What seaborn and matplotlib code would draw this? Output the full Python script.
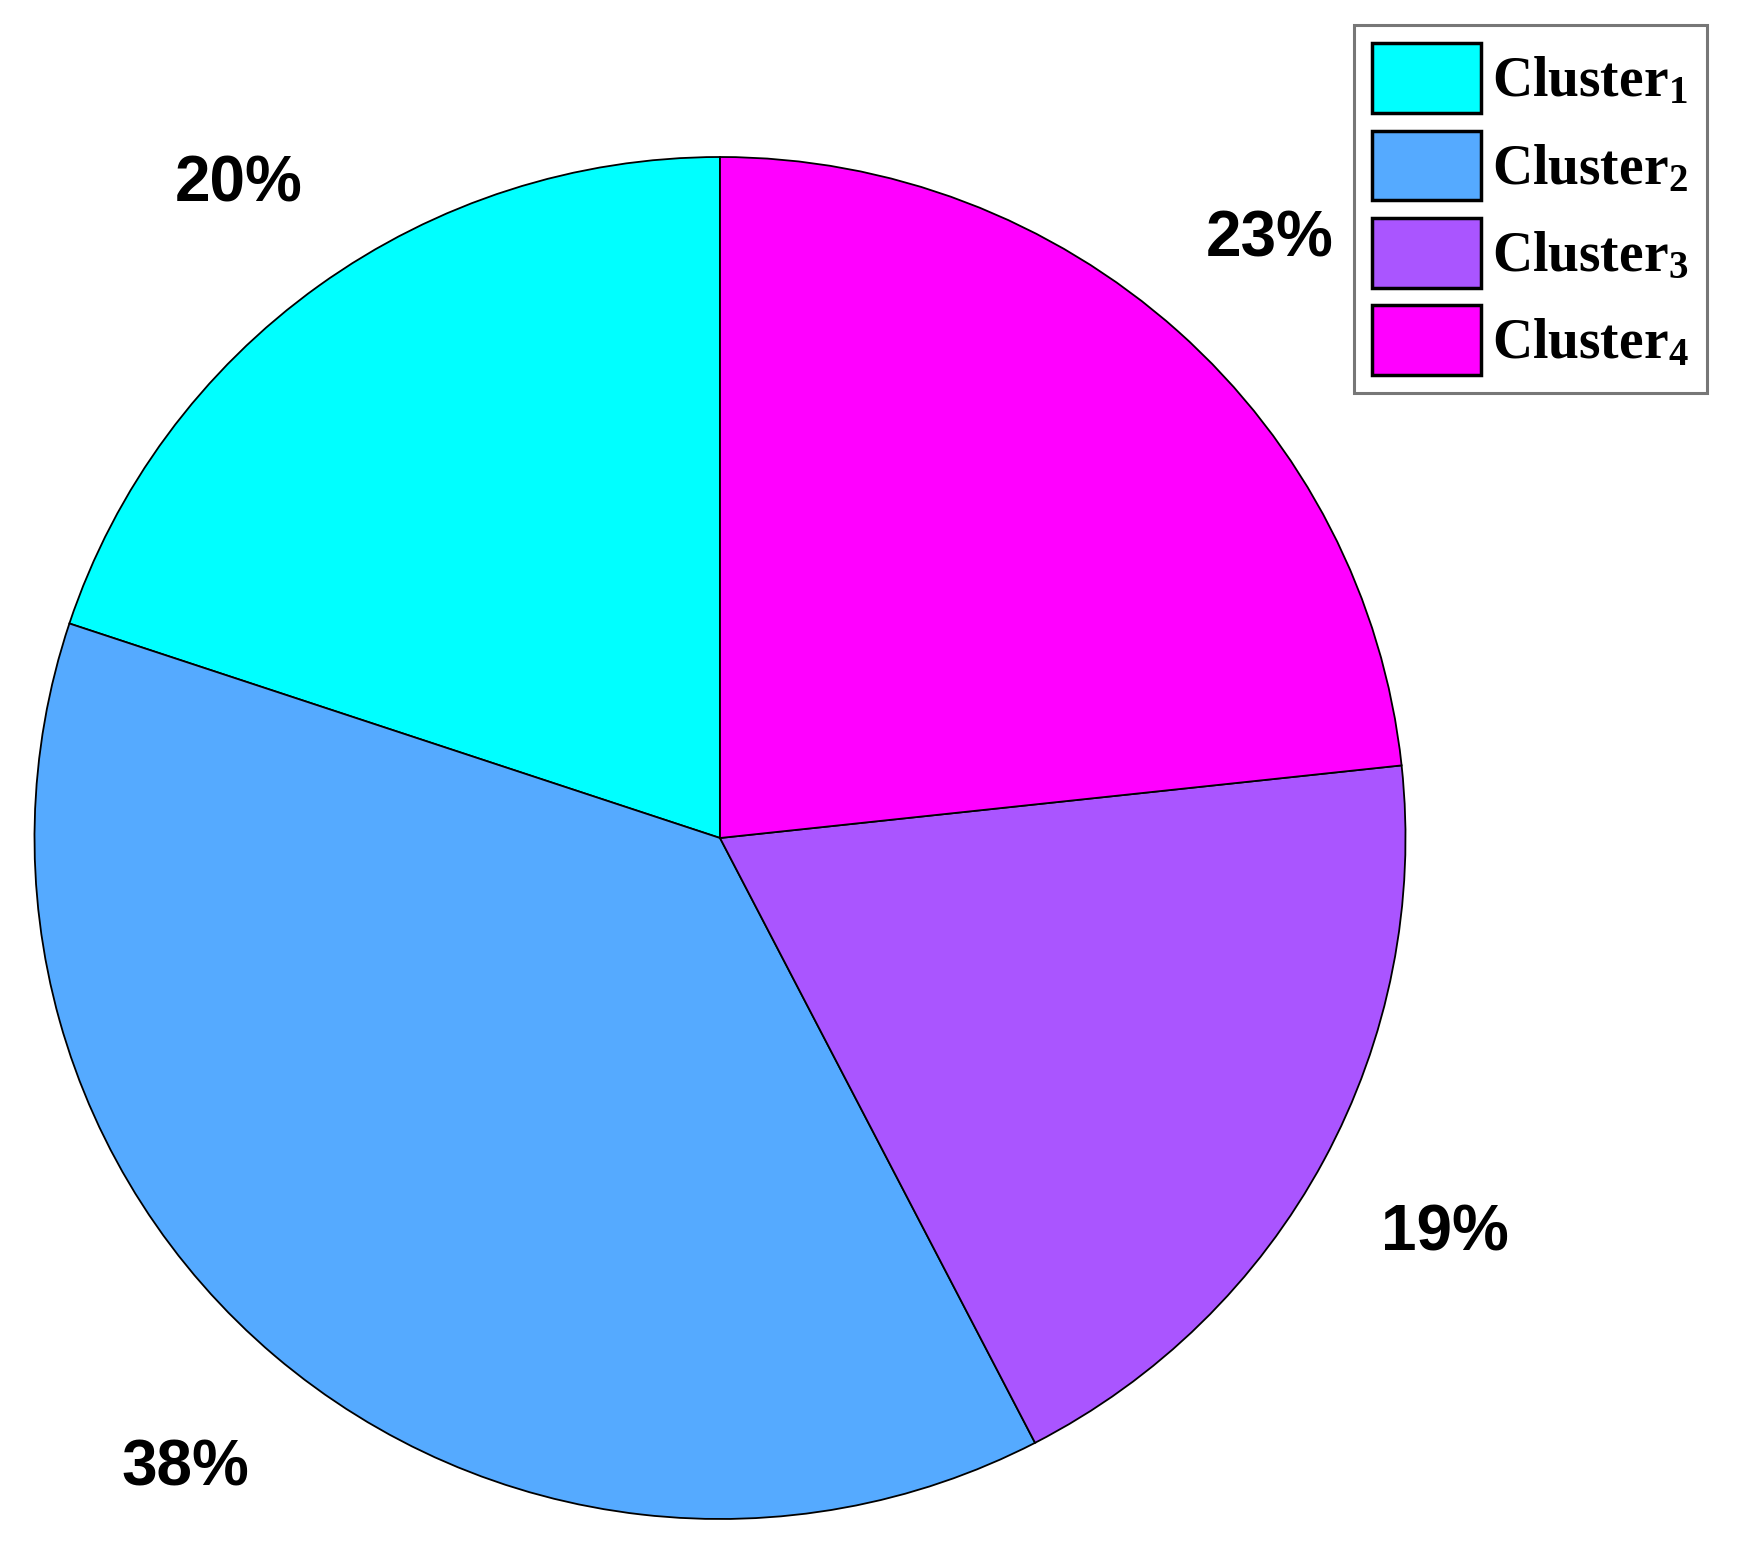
import matplotlib
matplotlib.use("Agg")
import matplotlib.pyplot as plt
import matplotlib.transforms as mtransforms
import seaborn as sns

categories = ["Cluster$_{1}$", "Cluster$_{2}$", "Cluster$_{3}$", "Cluster$_{4}$"]
shares = [19.9, 37.7, 19.1, 23.3]
colors = ["#00FFFF", "#55AAFF", "#AA55FF", "#FF00FF"]

sns.set_theme(style="white")
plt.rcParams["mathtext.fontset"] = "custom"
plt.rcParams["mathtext.rm"] = "Liberation Serif:bold"
plt.rcParams["mathtext.bf"] = "Liberation Serif:bold"
plt.rcParams["mathtext.it"] = "Liberation Serif:bold"
plt.rcParams["text.color"] = "black"

W, H = 1740, 1563
fig = plt.figure(figsize=(W / 100, H / 100), dpi=100)
cx, cy, rx, ry = 720, 838, 685.5, 681
ax = fig.add_axes([(cx - rx) / W, (H - cy - ry) / H, 2 * rx / W, 2 * ry / H])

wedges, texts, autotexts = ax.pie(
    shares, colors=colors, startangle=90, counterclock=True,
    autopct=lambda p: f"{p:.0f}%", pctdistance=1.2,
    wedgeprops=dict(edgecolor="black", linewidth=1.3),
    textprops=dict(fontfamily="Liberation Sans", fontweight="bold", fontsize=46, color="black"),
)
ax.set_xlim(-1, 1)
ax.set_ylim(-1, 1)
ax.set_aspect("auto")
ax.axis("off")
shift = mtransforms.offset_copy(ax.transData, fig=fig, x=0, y=-9, units="dots")
for t in autotexts:
    t.set_clip_on(False)
    t.set_transform(shift)

leg = fig.legend(
    wedges, categories, loc="upper right",
    bbox_to_anchor=(1707 / W, 1 - 25 / H), borderaxespad=0,
    prop=dict(family="Liberation Serif", weight="bold", size=40),
    handlelength=1.96, handleheight=1.56, handletextpad=0.2,
    labelspacing=0.31, borderpad=0.33, fancybox=False, frameon=True,
    labelcolor="black",
)
leg.get_frame().set_edgecolor("#555555")
leg.get_frame().set_linewidth(2.2)
for h in leg.legend_handles:
    h.set_edgecolor("black")
    h.set_linewidth(2.5)

fig.savefig("out.png", dpi=100, facecolor="white")
